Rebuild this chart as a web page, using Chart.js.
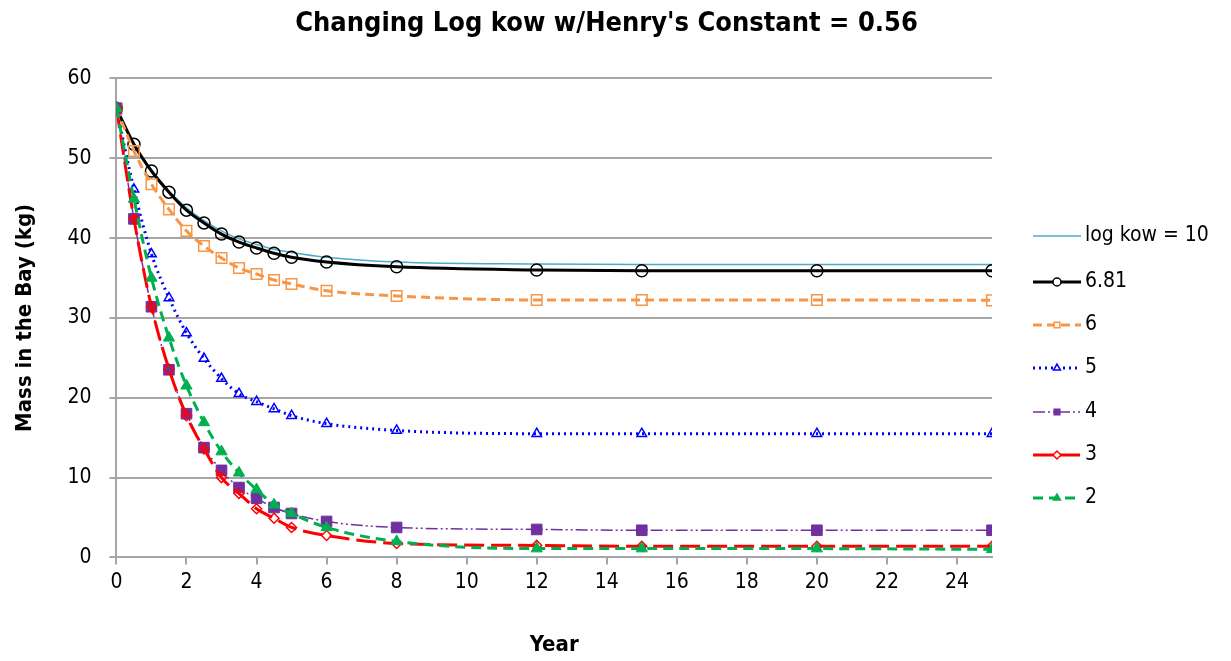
<!DOCTYPE html>
<html>
<head>
<meta charset="utf-8">
<script src="https://cdn.jsdelivr.net/npm/chart.js@4.4.1/dist/chart.umd.min.js"></script>
<style>
  html, body { margin: 0; padding: 0; background: #fff; }
  #wrap { width: 1231px; height: 661px; }
</style>
</head>
<body>
<div id="wrap"><canvas id="massChart" width="1231" height="661"></canvas></div>
<script>
// データ
const years = [0, 0.5, 1, 1.5, 2, 2.5, 3, 3.5, 4, 4.5, 5, 6, 8, 12, 15, 20, 25];
const yTicks = [0, 10, 20, 30, 40, 50, 60];
const seriesNames = ['log kow = 10', '6.81', '6', '5', '4', '3', '2'];

const kow10  = [56.25, 51.8, 48.5, 45.9, 43.8, 42.2, 40.9, 39.9, 39.2, 38.6, 38.2, 37.6, 37.0, 36.75, 36.7, 36.7, 36.7];
const kow681 = [56.25, 51.75, 48.4, 45.75, 43.5, 41.9, 40.5, 39.5, 38.75, 38.1, 37.6, 37.0, 36.4, 36.0, 35.9, 35.9, 35.9];
const kow6   = [56.25, 50.9, 46.75, 43.6, 40.9, 39.0, 37.5, 36.25, 35.5, 34.75, 34.25, 33.4, 32.75, 32.25, 32.25, 32.25, 32.2];
const kow5   = [56.25, 46.1, 38.0, 32.5, 28.1, 24.9, 22.4, 20.5, 19.5, 18.6, 17.75, 16.75, 15.9, 15.5, 15.5, 15.5, 15.5];
const kow4   = [56.25, 42.4, 31.4, 23.5, 18.0, 13.75, 10.9, 8.75, 7.4, 6.25, 5.5, 4.5, 3.75, 3.5, 3.4, 3.4, 3.4];
const kow3   = [56.25, 42.4, 31.4, 23.6, 17.75, 13.6, 10.0, 8.0, 6.1, 4.9, 3.75, 2.75, 1.75, 1.5, 1.4, 1.4, 1.4];
const kow2   = [56.25, 44.9, 35.0, 27.5, 21.5, 16.9, 13.25, 10.6, 8.5, 6.6, 5.5, 3.75, 2.0, 1.1, 1.1, 1.1, 1.0];

const FONT = "'Liberation Sans Narrow', 'Arial Narrow', 'DejaVu Sans Condensed', sans-serif";
const GRID = '#a6a6a6';

const toXY = arr => arr.map((v, i) => ({ x: years[i], y: v }));

const styles = [
    { color: '#4bacc6', width: 1.5, dash: [], point: false, radius: 0, fill: null },
    { color: '#000000', width: 3, dash: [], point: 'circle', radius: 6, fill: 'rgba(255,255,255,0)' },
    { color: '#f79646', width: 3, dash: [9, 5], point: 'rect', radius: 7.5, fill: 'rgba(255,255,255,0)' },
    { color: '#0000ff', width: 3, dash: [2, 4], point: 'triangle', radius: 5.5, fill: 'rgba(255,255,255,0)' },
    { color: '#7030a0', width: 1.5, dash: [12, 3, 2, 3, 2, 3], point: 'rect', radius: 7.5, fill: '#7030a0' },
    { color: '#ff0000', width: 3, dash: [20, 7], point: 'rectRot', radius: 5, fill: 'rgba(255,255,255,0)' },
    { color: '#00b050', width: 3, dash: [10, 6], point: 'triangle', radius: 6.5, fill: '#00b050' }
];
const seriesData = [kow10, kow681, kow6, kow5, kow4, kow3, kow2];

const datasets = seriesData.map((d, i) => {
    const s = styles[i];
    return {
        label: seriesNames[i],
        data: toXY(d),
        borderColor: s.color,
        borderWidth: s.width,
        borderDash: s.dash,
        pointStyle: s.point,
        pointRadius: s.radius,
        pointBorderWidth: i === 4 || i === 6 ? 1 : 1.5,
        pointBorderColor: s.color,
        pointBackgroundColor: s.fill || s.color,
        cubicInterpolationMode: 'monotone',
        fill: false,
        order: 10 - i
    };
});

// 凡例（線＋マーカー）を右側に描く
const sideLegend = {
    id: 'sideLegend',
    afterDraw(chart) {
        const ctx = chart.ctx;
        const x0 = 1033, x1 = 1081, mx = 1057, tx = 1085;
        const ys = [236, 282, 325, 368, 412, 455, 498];
        chart.data.datasets.forEach((ds, i) => {
            const y = ys[i];
            ctx.save();
            ctx.strokeStyle = ds.borderColor;
            ctx.lineWidth = ds.borderWidth;
            ctx.setLineDash(ds.borderDash);
            ctx.beginPath();
            ctx.moveTo(x0, y);
            ctx.lineTo(x1, y);
            ctx.stroke();
            ctx.setLineDash([]);
            if (ds.pointStyle) {
                ctx.fillStyle = ds.pointBackgroundColor === 'rgba(255,255,255,0)' ? '#fff' : ds.pointBackgroundColor;
                ctx.strokeStyle = ds.pointBorderColor;
                ctx.lineWidth = 1.5;
                Chart.helpers.drawPoint(ctx, { pointStyle: ds.pointStyle, radius: 4, rotation: 0, borderWidth: 1.5 }, mx, y);
            }
            ctx.fillStyle = '#000';
            ctx.font = '21px ' + FONT;
            ctx.textBaseline = 'middle';
            ctx.textAlign = 'left';
            ctx.fillText(ds.label, tx, y);
            ctx.restore();
        });
    }
};

new Chart(document.getElementById('massChart'), {
    type: 'line',
    data: { datasets },
    plugins: [sideLegend],
    options: {
        responsive: false,
        animation: false,
        layout: { padding: { left: 4, right: 22, top: 8, bottom: 3 } },
        plugins: {
            legend: { display: false },
            tooltip: { enabled: false },
            title: {
                display: true,
                text: "Changing Log kow w/Henry's Constant = 0.56",
                color: '#000',
                font: { family: FONT, size: 27, weight: 'bold' },
                padding: { top: 0, bottom: 38 }
            }
        },
        scales: {
            x: {
                type: 'linear',
                min: 0,
                max: 25,
                border: { color: GRID, width: 2 },
                grid: { drawOnChartArea: false, color: GRID, tickLength: 7, lineWidth: 2 },
                ticks: {
                    stepSize: 2,
                    includeBounds: false,
                    color: '#000',
                    padding: 6,
                    maxRotation: 0,
                    font: { family: FONT, size: 21 }
                },
                title: {
                    display: true,
                    text: 'Year',
                    color: '#000',
                    font: { family: FONT, size: 22, weight: 'bold' },
                    padding: { top: 30, bottom: 0 }
                }
            },
            y: {
                min: yTicks[0],
                max: yTicks[yTicks.length - 1],
                border: { color: GRID, width: 2 },
                grid: { color: GRID, lineWidth: 2, tickLength: 7 },
                afterBuildTicks: axis => { axis.ticks = yTicks.map(v => ({ value: v })); },
                ticks: {
                    color: '#000',
                    padding: 18,
                    font: { family: FONT, size: 21 }
                },
                title: {
                    display: true,
                    text: 'Mass in the Bay (kg)',
                    color: '#000',
                    font: { family: FONT, size: 22, weight: 'bold' },
                    padding: { top: 8, bottom: 11 }
                }
            },
            // 凡例のための右側の余白
            legendSpace: {
                type: 'linear',
                position: 'right',
                display: true,
                grid: { display: false, drawTicks: false },
                border: { display: false },
                ticks: { display: false },
                afterFit: axis => { axis.width = 217; }
            }
        }
    }
});
</script>
</body>
</html>
